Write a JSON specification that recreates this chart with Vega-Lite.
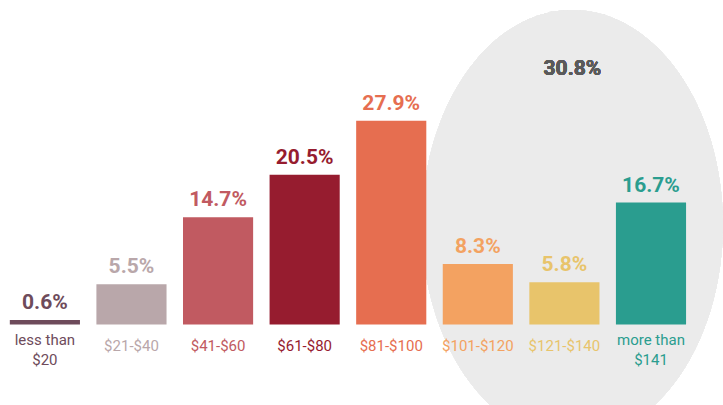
{
  "$schema": "https://vega.github.io/schema/vega-lite/v6.json",
  "width": 723,
  "height": 405,
  "autosize": {"type": "none"},
  "padding": 0,
  "background": "white",
  "config": {"view": {"stroke": null}, "text": {"font": "Roboto"}},
  "data": {"values": [
    {"cat": "less than\n$20", "pct": 0.006},
    {"cat": "$21-$40", "pct": 0.055},
    {"cat": "$41-$60", "pct": 0.147},
    {"cat": "$61-$80", "pct": 0.205},
    {"cat": "$81-$100", "pct": 0.279},
    {"cat": "$101-$120", "pct": 0.083},
    {"cat": "$121-$140", "pct": 0.058},
    {"cat": "more than\n$141", "pct": 0.167}
  ]},
  "encoding": {
    "x": {"field": "cat", "type": "nominal", "sort": null, "axis": null,
      "scale": {"domain": ["less than\n$20", "$21-$40", "$41-$60", "$61-$80", "$81-$100", "$101-$120", "$121-$140", "more than\n$141"],
        "paddingInner": 0.19, "paddingOuter": 0.27, "align": 0.21}},
    "y": {"field": "pct", "type": "quantitative", "axis": null,
      "scale": {"domain": [-0.1103, 0.4445], "nice": false, "zero": false}},
    "color": {"field": "cat", "type": "nominal", "sort": null, "legend": null,
      "scale": {"domain": ["less than\n$20", "$21-$40", "$41-$60", "$61-$80", "$81-$100", "$101-$120", "$121-$140", "more than\n$141"],
        "range": ["#6e4b5b", "#b9a7aa", "#c15a61", "#961c2f", "#e66e50", "#f3a261", "#e8c46b", "#2a9d8f"]}}
  },
  "layer": [
    {
      "mark": {"type": "point", "filled": true, "opacity": 1, "color": "#ebebeb", "strokeWidth": 0, "xOffset": 8,
        "shape": "M -0.7 0 A 0.7 1 0 1 0 0.7 0 A 0.7 1 0 1 0 -0.7 0 Z", "size": 184900},
      "encoding": {"x": {"datum": "$121-$140"}, "y": {"datum": 0.1363}, "color": {"value": "#ebebeb"}}
    },
    {
      "mark": {"type": "text", "fontWeight": "bold", "fontSize": 21, "dx": 8, "baseline": "alphabetic"},
      "encoding": {"x": {"datum": "$121-$140"}, "y": {"datum": 0.342}, "text": {"value": "30.8%"}, "color": {"value": "#5a5a5a"}}
    },
    {
      "mark": {"type": "bar"},
      "encoding": {"y2": {"datum": 0}}
    },
    {
      "mark": {"type": "text", "fontWeight": "bold", "fontSize": 21, "baseline": "alphabetic", "dy": -11},
      "encoding": {"text": {"field": "pct", "type": "quantitative", "format": ".1%"}}
    },
    {
      "transform": [{"filter": "indexof(datum.cat, 'than') < 0"}],
      "mark": {"type": "text", "fontSize": 15, "baseline": "middle", "dy": 22},
      "encoding": {"y": {"datum": 0}, "text": {"field": "cat"}}
    },
    {
      "transform": [{"filter": "indexof(datum.cat, 'than') >= 0"}],
      "mark": {"type": "text", "fontSize": 15, "baseline": "middle", "dy": 16, "lineBreak": "\n", "lineHeight": 20},
      "encoding": {"y": {"datum": 0}, "text": {"field": "cat"}}
    }
  ]
}
